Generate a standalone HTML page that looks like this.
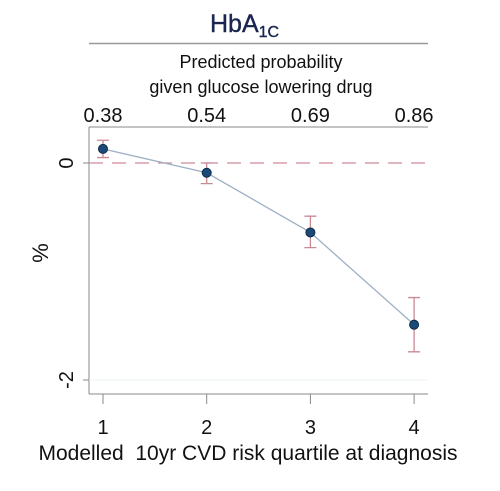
<!DOCTYPE html>
<html><head><meta charset="utf-8"><style>body{margin:0;background:#fff}svg{display:block}text{font-family:"Liberation Sans",sans-serif}</style></head>
<body>
<svg width="500" height="491" viewBox="0 0 500 491">
<script>
const categories=[1,2,3,4];
const topLabels=["0.38","0.54","0.69","0.86"];
const values=[0.13,-0.09,-0.64,-1.49];
const lower=[0.05,-0.19,-0.78,-1.74];
const upper=[0.21,0.00,-0.49,-1.24];
const yTicks=[0,-2];
</script>
<text x="210" y="32" font-size="25" fill="#1a2552" stroke="#1a2552" stroke-width="0.4">HbA<tspan font-size="16" dy="5">1C</tspan></text>
<line x1="89" y1="43.5" x2="428" y2="43.5" stroke="#999" stroke-width="1.5"/>
<text x="261" y="68" text-anchor="middle" font-size="18" fill="#111">Predicted probability</text>
<text x="261" y="93" text-anchor="middle" font-size="18" fill="#111">given glucose lowering drug</text>
<line x1="89" y1="127" x2="428" y2="127" stroke="#888"/>
<line x1="89" y1="127" x2="89" y2="394" stroke="#888"/>
<line x1="89" y1="394" x2="428" y2="394" stroke="#888"/>
<text transform="translate(48,253) rotate(-90)" text-anchor="middle" font-size="22" fill="#111">%</text>
<text x="248" y="460" text-anchor="middle" font-size="21" fill="#111" xml:space="preserve">Modelled  10yr CVD risk quartile at diagnosis</text>
<g id="g"></g>
<script>
const NS="http://www.w3.org/2000/svg";
const g=document.getElementById('g');
const xs=c=>103+(c-1)*103.7;
const ys=v=>163-v*108.5;
function mk(t,a){const e=document.createElementNS(NS,t);for(const k in a)e.setAttribute(k,a[k]);g.appendChild(e);return e;}
let e=mk('line',{x1:89,x2:428,y1:ys(0),y2:ys(0),stroke:'#d08a98','stroke-width':1.3,'stroke-dasharray':'14,9'});


e=mk('line',{x1:89,x2:428,y1:ys(-2),y2:ys(-2),stroke:'#eef3f3'});


yTicks.forEach(v=>{
 e=mk('line',{x1:83,x2:89,y1:ys(v),y2:ys(v),stroke:'#888'});
 
 
 e=mk('text',{transform:`translate(73,${ys(v)}) rotate(-90)`,'text-anchor':'middle','font-size':20,fill:'#111'});e.textContent=v===0?'0':String(v);
 
 
});
categories.forEach((c,i)=>{
 e=mk('line',{x1:xs(c),x2:xs(c),y1:394,y2:404,stroke:'#888'});
 
 
 e=mk('text',{x:xs(c),y:434,'text-anchor':'middle','font-size':20,fill:'#111'});e.textContent=c;
 
 
 e=mk('text',{x:xs(c),y:122,'text-anchor':'middle','font-size':20,fill:'#111'});e.textContent=topLabels[i];
 
 
});
e=mk('polyline',{points:categories.map((c,i)=>xs(c)+','+ys(values[i])).join(' '),fill:'none',stroke:'#9fb0c4','stroke-width':1.3});


categories.forEach((c,i)=>{
 const x=xs(c);
 e=mk('path',{d:`M${x},${ys(upper[i])}V${ys(lower[i])}M${x-6},${ys(upper[i])}H${x+6}M${x-6},${ys(lower[i])}H${x+6}`,stroke:'#c98a96','stroke-width':1.3,fill:'none'});
 
 
 e=mk('circle',{cx:x,cy:ys(values[i]),r:4.5,fill:'#1c4a78',stroke:'#0e2a48'});
 
 
});
</script>
</svg>
</body></html>
